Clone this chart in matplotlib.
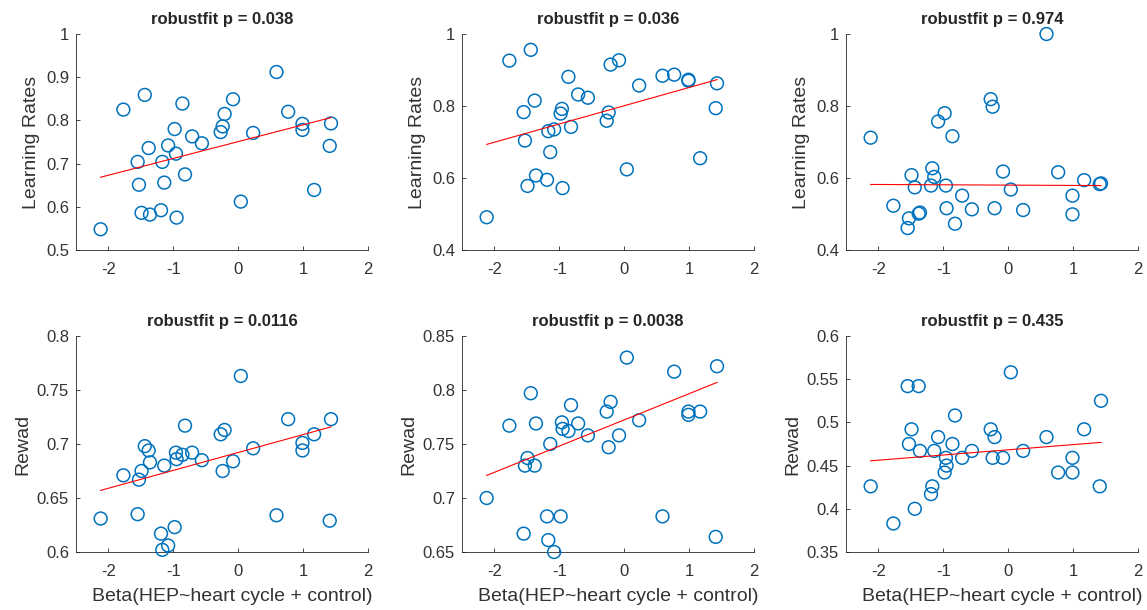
# Six scatter panels with robust (bisquare) regression lines

import numpy as np
import matplotlib
matplotlib.use('Agg')
from matplotlib import pyplot as plt
from matplotlib.ticker import FuncFormatter

plt.rcParams['font.family'] = ['Liberation Sans', 'DejaVu Sans']
plt.rcParams['axes.unicode_minus'] = False

# beta values, shared by all panels
beta = [-2.12, -1.77, -1.55, -1.53, -1.49, -1.44, -1.38, -1.36, -1.19, -1.17, -1.14,
        -1.08, -0.98, -0.96, -0.95, -0.86, -0.82, -0.71, -0.56, -0.27, -0.24, -0.21,
        -0.08, 0.04, 0.23, 0.59, 0.77, 0.99, 0.99, 1.17, 1.41, 1.43]

lr_1 = [0.548, 0.825, 0.704, 0.651, 0.586, 0.859, 0.736, 0.582, 0.592, 0.704, 0.656,
        0.742, 0.780, 0.723, 0.575, 0.839, 0.675, 0.763, 0.747, 0.773, 0.786, 0.815,
        0.849, 0.612, 0.771, 0.912, 0.820, 0.792, 0.778, 0.639, 0.741, 0.793]
lr_2 = [0.491, 0.926, 0.783, 0.704, 0.578, 0.956, 0.815, 0.607, 0.595, 0.730, 0.672,
        0.735, 0.779, 0.792, 0.572, 0.881, 0.742, 0.832, 0.823, 0.759, 0.782, 0.915,
        0.927, 0.624, 0.857, 0.884, 0.887, 0.873, 0.870, 0.655, 0.794, 0.863]
lr_3 = [0.712, 0.523, 0.461, 0.488, 0.608, 0.574, 0.501, 0.504, 0.579, 0.627, 0.603,
        0.757, 0.780, 0.579, 0.516, 0.716, 0.473, 0.551, 0.513, 0.819, 0.798, 0.516,
        0.618, 0.568, 0.511, 1.000, 0.616, 0.551, 0.499, 0.594, 0.583, 0.585]
rw_1 = [0.631, 0.671, 0.635, 0.667, 0.675, 0.698, 0.694, 0.683, 0.617, 0.602, 0.680,
        0.606, 0.623, 0.692, 0.686, 0.690, 0.717, 0.692, 0.685, 0.709, 0.675, 0.713,
        0.684, 0.763, 0.696, 0.634, 0.723, 0.701, 0.694, 0.709, 0.629, 0.723]
rw_2 = [0.700, 0.767, 0.667, 0.730, 0.737, 0.797, 0.730, 0.769, 0.683, 0.661, 0.750,
        0.650, 0.683, 0.770, 0.764, 0.762, 0.786, 0.769, 0.758, 0.780, 0.747, 0.789,
        0.758, 0.830, 0.772, 0.683, 0.817, 0.780, 0.777, 0.780, 0.664, 0.822]
rw_3 = [0.426, 0.383, 0.542, 0.475, 0.492, 0.400, 0.542, 0.467, 0.417, 0.426, 0.467,
        0.483, 0.442, 0.459, 0.450, 0.475, 0.508, 0.459, 0.467, 0.492, 0.459, 0.483,
        0.459, 0.558, 0.467, 0.483, 0.442, 0.459, 0.442, 0.492, 0.426, 0.525]

ydata = [lr_1, lr_2, lr_3, rw_1, rw_2, rw_3]
pvals = ['0.038', '0.036', '0.974', '0.0116', '0.0038', '0.435']
ylims = [(0.5, 1), (0.4, 1), (0.4, 1), (0.6, 0.8), (0.65, 0.85), (0.35, 0.6)]
ysteps = [0.1, 0.2, 0.2, 0.05, 0.05, 0.05]


def robustfit(x, y, tune=4.685, iters=50):
    # bisquare IRLS, roughly like matlab's robustfit
    X = np.column_stack([np.ones_like(x), x])
    Q, _ = np.linalg.qr(X)
    h = np.minimum(0.9999, np.sum(Q * Q, axis=1))
    adj = 1.0 / np.sqrt(1 - h)
    b = np.linalg.lstsq(X, y, rcond=None)[0]
    for i in range(iters):
        r = (y - X @ b) * adj
        s = np.median(np.sort(np.abs(r - np.median(r)))[1:]) / 0.6745
        u = r / (tune * max(s, 1e-8))
        w = np.where(np.abs(u) < 1, (1 - u ** 2) ** 2, 0.0)
        sw = np.sqrt(w)
        b_new = np.linalg.lstsq(X * sw[:, None], y * sw, rcond=None)[0]
        if np.allclose(b_new, b, atol=1e-10):
            break
        b = b_new
    return b


fig = plt.figure(figsize=(11.47, 6.10), dpi=100)
lefts = [76 / 1147, 462 / 1147, 846 / 1147]
bottoms = [(610 - 250) / 610, (610 - 552) / 610]
w = 292 / 1147
hgt = 216 / 610

x = np.array(beta)
tc = '#262626'
fmt = FuncFormatter(lambda v, p: '%g' % v)
for k in range(6):
    row, col = divmod(k, 3)
    ax = fig.add_axes([lefts[col], bottoms[row], w, hgt])
    y = np.array(ydata[k])
    ax.scatter(x, y, s=85, facecolors='none', edgecolors='#0072BD', linewidths=1.1,
               clip_on=False, zorder=3)
    b = robustfit(x, y)
    xx = np.array([x.min(), x.max()])
    ax.plot(xx, b[0] + b[1] * xx, color='red', lw=0.8, zorder=4)

    ax.set_xlim(-2.5, 2)
    ax.set_ylim(*ylims[k])
    ax.set_xticks([-2, -1, 0, 1, 2])
    lo, hi = ylims[k]
    ax.set_yticks(np.round(np.arange(lo, hi + 1e-9, ysteps[k]), 3))
    ax.yaxis.set_major_formatter(fmt)
    ax.xaxis.set_major_formatter(fmt)
    for sp in ['top', 'right']:
        ax.spines[sp].set_visible(False)
    for sp in ['left', 'bottom']:
        ax.spines[sp].set_color(tc)
        ax.spines[sp].set_linewidth(0.6)
    ax.tick_params(direction='in', length=3, width=0.6, colors=tc, labelcolor='#333333',
                   labelsize=12)
    ax.tick_params(axis='x', pad=9)
    ax.tick_params(axis='y', pad=5)
    ax.set_title('robustfit p = ' + pvals[k], fontsize=12, fontweight='bold',
                 color=tc, pad=7)
    if row == 0:
        ax.set_ylabel('Learning Rates', fontsize=14, color='#333333', labelpad=4)
    else:
        ax.set_ylabel('Rewad', fontsize=14, color='#333333', labelpad=4)
        ax.set_xlabel('Beta(HEP~heart cycle + control)', fontsize=14, color='#333333')
        ax.xaxis.set_label_coords(0.535, -0.165)

plt.savefig('out.png', dpi=100)
